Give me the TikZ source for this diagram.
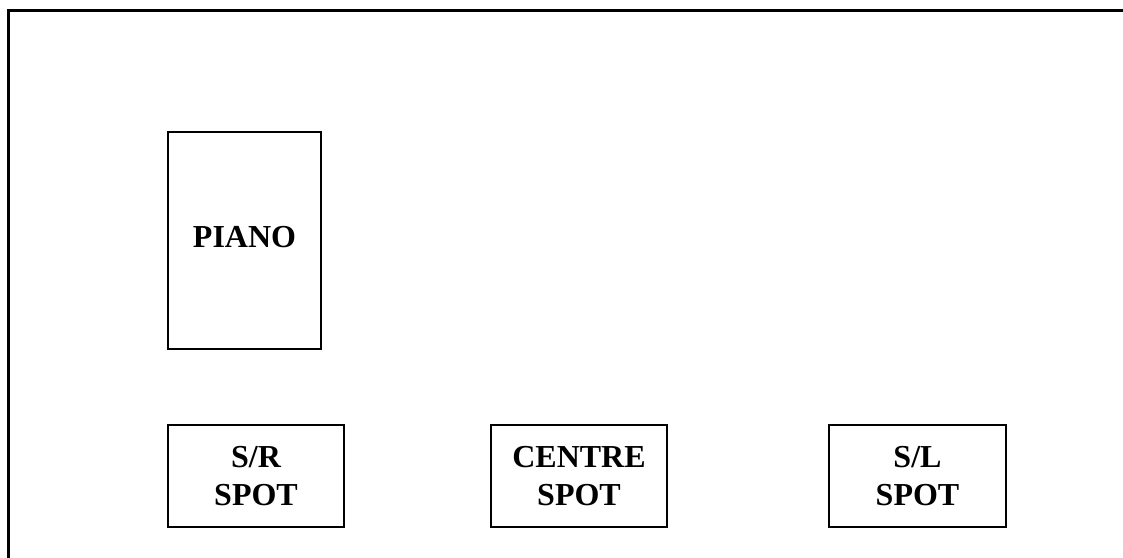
\documentclass[tikz,border=0pt]{standalone}
\usepackage{fontspec}
\setmainfont{Liberation Serif}
\begin{document}
\begin{tikzpicture}[x=1pt,y=-1pt,
  box/.style={draw,line width=1.5pt,inner sep=0pt},
  lbl/.style={anchor=base,inner sep=0pt,font=\fontsize{32}{37}\selectfont\bfseries}]
\useasboundingbox (0,0) rectangle (1123,557);
\draw[line width=3pt] (8,560) -- (8,10) -- (1126,10);
\node[box,minimum width=153pt,minimum height=217pt] (piano) at (244.5,240.5) {};
\node[box,minimum width=176pt,minimum height=102pt] (sr) at (256,476) {};
\node[box,minimum width=176pt,minimum height=102pt] (centre) at (579,476) {};
\node[box,minimum width=177pt,minimum height=102pt] (sl) at (917.5,476) {};
\node[lbl] (pianot) at (244.5,247) {PIANO};
\node[lbl] (sra) at (256,467) {S/R};
\node[lbl] (srb) at (256,505) {SPOT};
\node[lbl] (cea) at (579,467) {CENTRE};
\node[lbl] (ceb) at (579,505) {SPOT};
\node[lbl] (sla) at (917.5,467) {S/L};
\node[lbl] (slb) at (917.5,505) {SPOT};
\end{tikzpicture}
\end{document}
